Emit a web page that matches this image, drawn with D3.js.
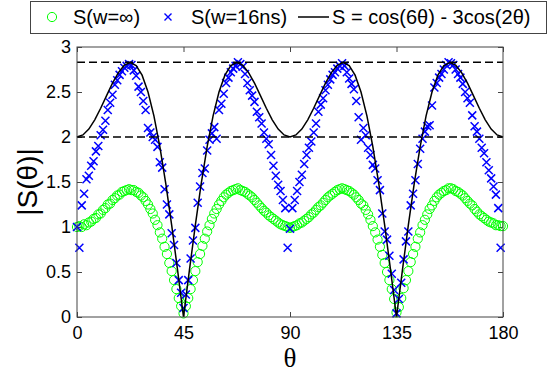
<!DOCTYPE html>
<html lang="en">
<head>
  <meta charset="UTF-8">
  <title>|S(theta)| chart</title>
  <style>
    body { margin: 0; background: #fff; }
    svg { display: block; font-family: 'Liberation Sans', Arial, sans-serif; }
    .frame { fill: none; stroke: #444; stroke-width: 1; }
    .tick line { stroke: #444; }
    .tick text { font-size: 18px; fill: #000; }
  </style>
  <script src="https://d3js.org/d3.v7.min.js"></script>
</head>
<body>
  <svg id="chart" width="556" height="373"></svg>

  <script>
    // tick labels
    const xTicks = [0, 45, 90, 135, 180];
    const yTicks = [0, 0.5, 1, 1.5, 2, 2.5, 3];
    const yTickLabels = ["0", "0.5", "1", "1.5", "2", "2.5", "3"];

    // reference levels (dashed lines)
    const refLevels = [2, 2.83];

    // theory curve S = cos(6θ) - 3cos(2θ), read every 2.5 degrees
    const lineTheta = d3.range(0, 180.01, 2.5);
    const lineS = [
      2.000, 2.023, 2.088, 2.191, 2.319, 2.460, 2.598, 2.716, 2.798, 2.828, 2.794, 2.687, 2.500,
      2.234, 1.892, 1.484, 1.021, 0.520, 0.000, 0.520, 1.021, 1.484, 1.892, 2.234, 2.500, 2.687,
      2.794, 2.828, 2.798, 2.716, 2.598, 2.460, 2.319, 2.191, 2.088, 2.023, 2.000,
      2.023, 2.088, 2.191, 2.319, 2.460, 2.598, 2.716, 2.798, 2.828, 2.794, 2.687, 2.500,
      2.234, 1.892, 1.484, 1.021, 0.520, 0.000, 0.520, 1.021, 1.484, 1.892, 2.234, 2.500, 2.687,
      2.794, 2.828, 2.798, 2.716, 2.598, 2.460, 2.319, 2.191, 2.088, 2.023, 2.000
    ];

    // S(w=inf), one circle per degree
    const greenTheta = d3.range(0, 181);
    const greenS = [
      1.00, 1.01, 1.00, 1.03, 1.02, 1.05, 1.06, 1.09, 1.10, 1.14, 1.15, 1.19, 1.21, 1.25, 1.26,
      1.30, 1.32, 1.35, 1.36, 1.39, 1.40, 1.41, 1.42, 1.41, 1.41, 1.39, 1.38, 1.35, 1.33, 1.29,
      1.25, 1.20, 1.15, 1.08, 1.02, 0.94, 0.87, 0.78, 0.70, 0.60, 0.51, 0.41, 0.31, 0.21, 0.12, 0.04,
      0.12, 0.21, 0.31, 0.41, 0.51, 0.61, 0.70, 0.79, 0.87, 0.95, 1.02, 1.09, 1.15, 1.20, 1.25,
      1.29, 1.33, 1.36, 1.38, 1.40, 1.41, 1.42, 1.43, 1.41, 1.40, 1.39, 1.37, 1.35, 1.33, 1.30,
      1.27, 1.24, 1.21, 1.18, 1.16, 1.13, 1.11, 1.09, 1.07, 1.05, 1.03, 1.02, 1.01, 1.00, 0.99,
      1.00, 1.01, 1.02, 1.04, 1.05, 1.07, 1.09, 1.11, 1.14, 1.16, 1.19, 1.22, 1.24, 1.27, 1.30,
      1.33, 1.35, 1.37, 1.39, 1.41, 1.42, 1.43, 1.42, 1.41, 1.40, 1.38, 1.36, 1.33, 1.30, 1.26,
      1.24, 1.19, 1.14, 1.08, 1.01, 0.94, 0.86, 0.78, 0.69, 0.60, 0.50, 0.41, 0.31, 0.20, 0.05,
      0.11, 0.21, 0.32, 0.41, 0.51, 0.61, 0.70, 0.78, 0.87, 0.94, 1.02, 1.08, 1.14, 1.20, 1.24,
      1.29, 1.33, 1.36, 1.38, 1.40, 1.41, 1.43, 1.43, 1.42, 1.40, 1.39, 1.37, 1.35, 1.32, 1.29,
      1.26, 1.24, 1.20, 1.17, 1.14, 1.12, 1.10, 1.08, 1.06, 1.05, 1.04, 1.02, 1.02, 1.01, 1.01
    ];

    // S(w=16ns), one cross per degree
    const blueTheta = d3.range(0, 180);
    const blueS = [
      1.00, 0.77, 1.24, 1.37, 1.53, 1.57, 1.68, 1.73, 1.84, 1.90, 2.02, 2.08, 2.18, 2.30, 2.38,
      2.47, 2.58, 2.63, 2.69, 2.73, 2.77, 2.79, 2.81, 2.80, 2.74, 2.68, 2.56, 2.50, 2.40, 2.30,
      2.10, 2.05, 2.00, 1.97, 1.89, 1.72, 1.66, 1.42, 1.25, 1.14, 0.93, 0.80, 0.60, 0.41, 0.27, 0.10,
      0.25, 0.41, 0.65, 0.85, 0.99, 1.27, 1.45, 1.60, 1.65, 1.85, 1.97, 2.04, 2.11, 1.98, 2.30,
      2.37, 2.48, 2.60, 2.66, 2.72, 2.76, 2.79, 2.83, 2.81, 2.78, 2.70, 2.60, 2.52, 2.46, 2.39,
      2.28, 2.22, 2.15, 2.05, 1.98, 1.92, 1.80, 1.68, 1.57, 1.47, 1.40, 1.30, 1.21, 0.77, 0.98,
      1.21, 1.30, 1.40, 1.50, 1.58, 1.70, 1.80, 1.88, 1.95, 2.05, 2.15, 2.28, 2.36, 2.43, 2.52,
      2.58, 2.64, 2.69, 2.72, 2.76, 2.79, 2.82, 2.79, 2.72, 2.65, 2.59, 2.53, 2.40, 2.22, 1.97,
      2.10, 2.02, 1.88, 1.80, 1.69, 1.65, 1.52, 1.41, 1.15, 0.95, 0.86, 0.68, 0.48, 0.30, 0.04,
      0.20, 0.38, 0.64, 0.84, 0.95, 1.24, 1.37, 1.52, 1.70, 1.87, 1.98, 2.06, 2.12, 2.13, 2.35,
      2.55, 2.60, 2.66, 2.70, 2.75, 2.80, 2.83, 2.82, 2.80, 2.75, 2.70, 2.66, 2.59, 2.50, 2.43,
      2.38, 2.24, 2.12, 2.06, 1.98, 1.88, 1.82, 1.72, 1.63, 1.54, 1.45, 1.36, 1.21, 0.77
    ];

    const legendLabels = ["S(w=\u221e)", "S(w=16ns)", "S = cos(6\u03b8) - 3cos(2\u03b8)"];

    const svg = d3.select("#chart");
    const margin = { left: 77, right: 53, top: 47, bottom: 56 };
    const W = 556, H = 373;

    const x = d3.scaleLinear().domain([0, 180]).range([margin.left, W - margin.right]);
    const y = d3.scaleLinear().domain([0, 3]).range([H - margin.bottom, margin.top]);

    // axes, ticks pointing inward like MATLAB
    svg.append("g")
      .attr("transform", `translate(0,${y(0)})`)
      .call(d3.axisBottom(x).tickValues(xTicks).tickSize(-5).tickPadding(9))
      .call(g => g.select(".domain").remove());
    svg.append("g")
      .attr("transform", `translate(0,${y(3)})`)
      .call(d3.axisTop(x).tickValues(xTicks).tickSize(-5).tickFormat(""))
      .call(g => g.select(".domain").remove());
    svg.append("g")
      .attr("transform", `translate(${x(0)},0)`)
      .call(d3.axisLeft(y).tickValues(yTicks).tickSize(-5).tickPadding(6)
        .tickFormat((d, i) => yTickLabels[i]))
      .call(g => g.select(".domain").remove());
    svg.append("g")
      .attr("transform", `translate(${x(180)},0)`)
      .call(d3.axisRight(y).tickValues(yTicks).tickSize(-5).tickFormat(""))
      .call(g => g.select(".domain").remove());

    // green circles
    svg.append("g")
      .selectAll("circle")
      .data(greenTheta.map((t, i) => [t, greenS[i]]))
      .join("circle")
      .attr("cx", d => x(d[0]))
      .attr("cy", d => y(d[1]))
      .attr("r", 4.6)
      .attr("fill", "none")
      .attr("stroke", "#00ff00")
      .attr("stroke-width", 1);

    // blue crosses
    const cross = "M-4,-4L4,4M-4,4L4,-4";
    svg.append("g")
      .selectAll("path")
      .data(blueTheta.map((t, i) => [t, blueS[i]]))
      .join("path")
      .attr("transform", d => `translate(${x(d[0])},${y(d[1])})`)
      .attr("d", cross)
      .attr("stroke", "#0000ff")
      .attr("stroke-width", 1.5);

    // theory curve
    svg.append("path")
      .datum(lineTheta.map((t, i) => [t, lineS[i]]))
      .attr("fill", "none")
      .attr("stroke", "#000")
      .attr("stroke-width", 1.5)
      .attr("d", d3.line().x(d => x(d[0])).y(d => y(d[1])));

    // dashed reference levels
    svg.append("g")
      .selectAll("line")
      .data(refLevels)
      .join("line")
      .attr("x1", x(0)).attr("x2", x(180))
      .attr("y1", d => y(d)).attr("y2", d => y(d))
      .attr("stroke", "#000")
      .attr("stroke-width", 1.5)
      .attr("stroke-dasharray", "8,4");

    // frame
    svg.append("rect")
      .attr("class", "frame")
      .attr("x", x(0)).attr("y", y(3))
      .attr("width", x(180) - x(0)).attr("height", y(0) - y(3));

    // axis labels
    svg.append("text")
      .attr("x", (x(0) + x(180)) / 2)
      .attr("y", 367)
      .attr("text-anchor", "middle")
      .style("font-family", "'Liberation Serif', serif")
      .style("font-size", "27px")
      .text("\u03b8");

    svg.append("text")
      .attr("transform", `translate(37,${(y(0) + y(3)) / 2}) rotate(-90)`)
      .attr("text-anchor", "middle")
      .style("font-size", "28px")
      .text("|S(\u03b8)|");

    // legend
    const lg = svg.append("g");
    lg.append("rect")
      .attr("x", 30.5).attr("y", 1.5)
      .attr("width", 516).attr("height", 32)
      .attr("fill", "#fff")
      .attr("stroke", "#444");
    lg.append("circle")
      .attr("cx", 52).attr("cy", 17).attr("r", 4.6)
      .attr("fill", "none").attr("stroke", "#00ff00");
    lg.append("path")
      .attr("transform", "translate(168,17)")
      .attr("d", "M-3.5,-3.5L3.5,3.5M-3.5,3.5L3.5,-3.5")
      .attr("stroke", "#0000ff").attr("stroke-width", 1.4);
    lg.append("line")
      .attr("x1", 298).attr("x2", 329).attr("y1", 17).attr("y2", 17)
      .attr("stroke", "#000").attr("stroke-width", 1.5);
    const legendX = [73, 191, 332];
    lg.selectAll("text.lt")
      .data(legendLabels)
      .join("text")
      .attr("class", "lt")
      .attr("x", (d, i) => legendX[i])
      .attr("y", 24)
      .style("font-size", "20px")
      .text(d => d);
  </script>
</body>
</html>
